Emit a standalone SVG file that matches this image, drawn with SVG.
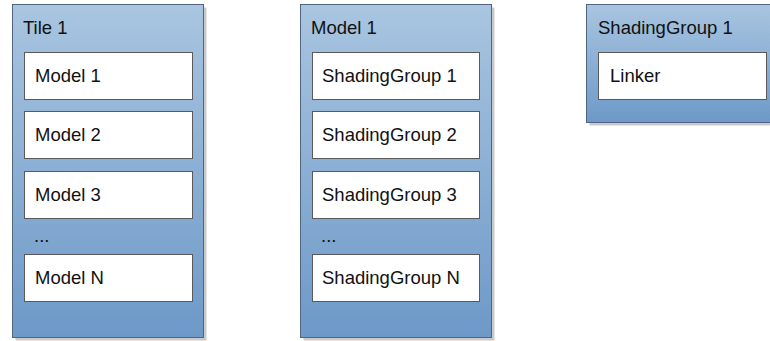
<svg xmlns="http://www.w3.org/2000/svg" width="770" height="341" viewBox="0 0 770 341">
<defs>
<linearGradient id="bg" x1="0" y1="0" x2="0" y2="1">
<stop offset="0" stop-color="#a9c5e0"/>
<stop offset="1" stop-color="#6d99c8"/>
</linearGradient>
</defs>
<style>
.shadow{fill:#c9c9c9}
.outer{fill:url(#bg);stroke:#4f6580;stroke-width:1}
.inner{fill:#ffffff;stroke:#5a5a5a;stroke-width:1}
text{font-family:"Liberation Sans",Arial,sans-serif;font-size:18.5px;fill:#111}
</style>
<rect width="770" height="341" fill="#ffffff"/>
<g id="connectors"/>
<g id="tile1">
<rect class="shadow" x="15.5" y="7.5" width="191" height="333"/>
<rect class="outer" x="12.5" y="4.5" width="191" height="333"/>
<text x="23" y="34">Tile 1</text>
<g id="tile-model1"><rect class="inner" x="24.5" y="52.5" width="168" height="47"/><text x="35" y="82">Model 1</text></g>
<g id="tile-model2"><rect class="inner" x="24.5" y="111.5" width="168" height="47"/><text x="35" y="141">Model 2</text></g>
<g id="tile-model3"><rect class="inner" x="24.5" y="171.5" width="168" height="47"/><text x="35" y="201">Model 3</text></g>
<text x="34" y="242">...</text>
<g id="tile-modelN"><rect class="inner" x="24.5" y="254.5" width="168" height="47"/><text x="35" y="284">Model N</text></g>
</g>
<g id="model1">
<rect class="shadow" x="303.5" y="7.5" width="191" height="333"/>
<rect class="outer" x="300.5" y="4.5" width="191" height="333"/>
<text x="311" y="34">Model 1</text>
<g id="sg1"><rect class="inner" x="312.5" y="52.5" width="167" height="47"/><text x="322" y="82">ShadingGroup 1</text></g>
<g id="sg2"><rect class="inner" x="312.5" y="111.5" width="167" height="47"/><text x="322" y="141">ShadingGroup 2</text></g>
<g id="sg3"><rect class="inner" x="312.5" y="171.5" width="167" height="47"/><text x="322" y="201">ShadingGroup 3</text></g>
<text x="321" y="242">...</text>
<g id="sgN"><rect class="inner" x="312.5" y="254.5" width="167" height="47"/><text x="322" y="284">ShadingGroup N</text></g>
</g>
<g id="shadinggroup1">
<rect class="shadow" x="589.5" y="7.5" width="191" height="118"/>
<rect class="outer" x="586.5" y="4.5" width="191" height="118"/>
<text x="598" y="34">ShadingGroup 1</text>
<g id="linker"><rect class="inner" x="598.5" y="52.5" width="168" height="47"/><text x="610" y="82">Linker</text></g>
</g>
</svg>
